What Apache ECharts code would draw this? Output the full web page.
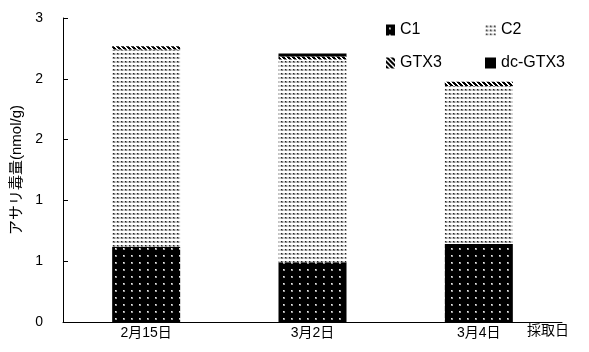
<!DOCTYPE html>
<html>
<head>
<meta charset="utf-8">
<script src="https://cdn.jsdelivr.net/npm/echarts@6/dist/echarts.min.js"></script>
<style>
  html, body { margin: 0; padding: 0; background: #fff; }
  #chart { width: 589px; height: 352px; }
</style>
</head>
<body>
<div id="chart"></div>
<script>
// Sampling dates and toxin components (nmol/g)
const categories = ['2月15日', '3月2日', '3月4日'];
const seriesNames = ['C1', 'C2', 'GTX3', 'dc-GTX3'];
const c1 = [0.74, 0.59, 0.77];
const c2 = [1.95, 2.00, 1.56];
const gtx3 = [0.03, 0.03, 0.04];
const dcGtx3 = [0, 0.03, 0];
const yTicks = [0, 0.6, 1.2, 1.8, 2.4, 3.0];

// Fill patterns for the stacked segments
function tile(w, h, draw) {
  const c = document.createElement('canvas');
  c.width = w; c.height = h;
  const ctx = c.getContext('2d');
  draw(ctx);
  return { image: c, repeat: 'repeat' };
}

const patC1 = tile(8, 7, ctx => {
  ctx.fillStyle = '#000';
  ctx.fillRect(0, 0, 8, 7);
  ctx.fillStyle = '#9a9a9a';
  ctx.fillRect(3, 3, 2, 2);
  ctx.fillStyle = '#eee';
  ctx.fillRect(3, 3, 1, 1);
});

const patC2 = tile(4, 4, ctx => {
  ctx.fillStyle = '#fff';
  ctx.fillRect(0, 0, 4, 4);
  ctx.fillStyle = '#d0d0d0';
  ctx.fillRect(0, 1, 4, 2);
  ctx.fillStyle = '#888';
  ctx.fillRect(1, 1, 2, 2);
  ctx.fillStyle = '#222';
  ctx.fillRect(1, 1, 1, 1);
});

const patGtx3 = tile(5, 5, ctx => {
  ctx.fillStyle = '#fff';
  ctx.fillRect(0, 0, 5, 5);
  ctx.fillStyle = '#000';
  for (let y = 0; y < 5; y++) {
    for (let x = 0; x < 5; x++) {
      if (((x - y) % 5 + 5) % 5 < 3) ctx.fillRect(x, y, 1, 1);
    }
  }
});

const fills = [patC1, patC2, patGtx3, '#000'];
const values = [c1, c2, gtx3, dcGtx3];

const font = '"Liberation Sans", "Noto Sans CJK JP", sans-serif';

const chart = echarts.init(document.getElementById('chart'), null, { renderer: 'canvas' });

const legendText = { fontFamily: font, fontSize: 16, color: '#000' };

chart.setOption({
  animation: false,
  backgroundColor: '#fff',
  grid: { left: 63, right: 27, top: 18, bottom: 30, containLabel: false },
  legend: [
    {
      data: ['C1', 'GTX3'],
      orient: 'vertical',
      icon: 'rect',
      padding: 0,
      left: 386, top: 22,
      itemWidth: 9, itemHeight: 11, itemGap: 17,
      textStyle: legendText
    },
    {
      data: ['C2', 'dc-GTX3'],
      orient: 'vertical',
      icon: 'rect',
      padding: 0,
      left: 485, top: 22,
      itemWidth: 11, itemHeight: 11, itemGap: 17,
      textStyle: legendText
    }
  ],
  xAxis: {
    type: 'category',
    data: categories,
    boundaryGap: true,
    axisLine: { lineStyle: { color: '#000', width: 1 } },
    axisTick: { inside: true, length: 5, lineStyle: { color: '#000' } },
    axisLabel: { color: '#000', fontFamily: font, fontSize: 14, margin: 4 },
    splitLine: { show: false }
  },
  yAxis: {
    type: 'value',
    min: yTicks[0],
    max: yTicks[yTicks.length - 1],
    interval: 0.6,
    name: 'アサリ毒量(nmol/g)',
    nameLocation: 'middle',
    nameGap: 35,
    nameTextStyle: { color: '#000', fontFamily: font, fontSize: 15 },
    axisLine: { show: true, lineStyle: { color: '#000', width: 1 } },
    axisTick: { show: true, inside: true, length: 5, lineStyle: { color: '#000' } },
    axisLabel: {
      color: '#000', fontFamily: font, fontSize: 14, margin: 20,
      formatter: v => String(Math.round(v))
    },
    splitLine: { show: false }
  },
  graphic: [
    {
      type: 'text',
      left: 527, top: 324,
      style: { text: '採取日', fill: '#000', font: '14px ' + font }
    }
  ],
  series: seriesNames.map((name, i) => ({
    name,
    type: 'bar',
    stack: 'toxin',
    barWidth: 68,
    data: values[i],
    itemStyle: { color: fills[i] },
    emphasis: { disabled: true }
  }))
});
</script>
</body>
</html>
